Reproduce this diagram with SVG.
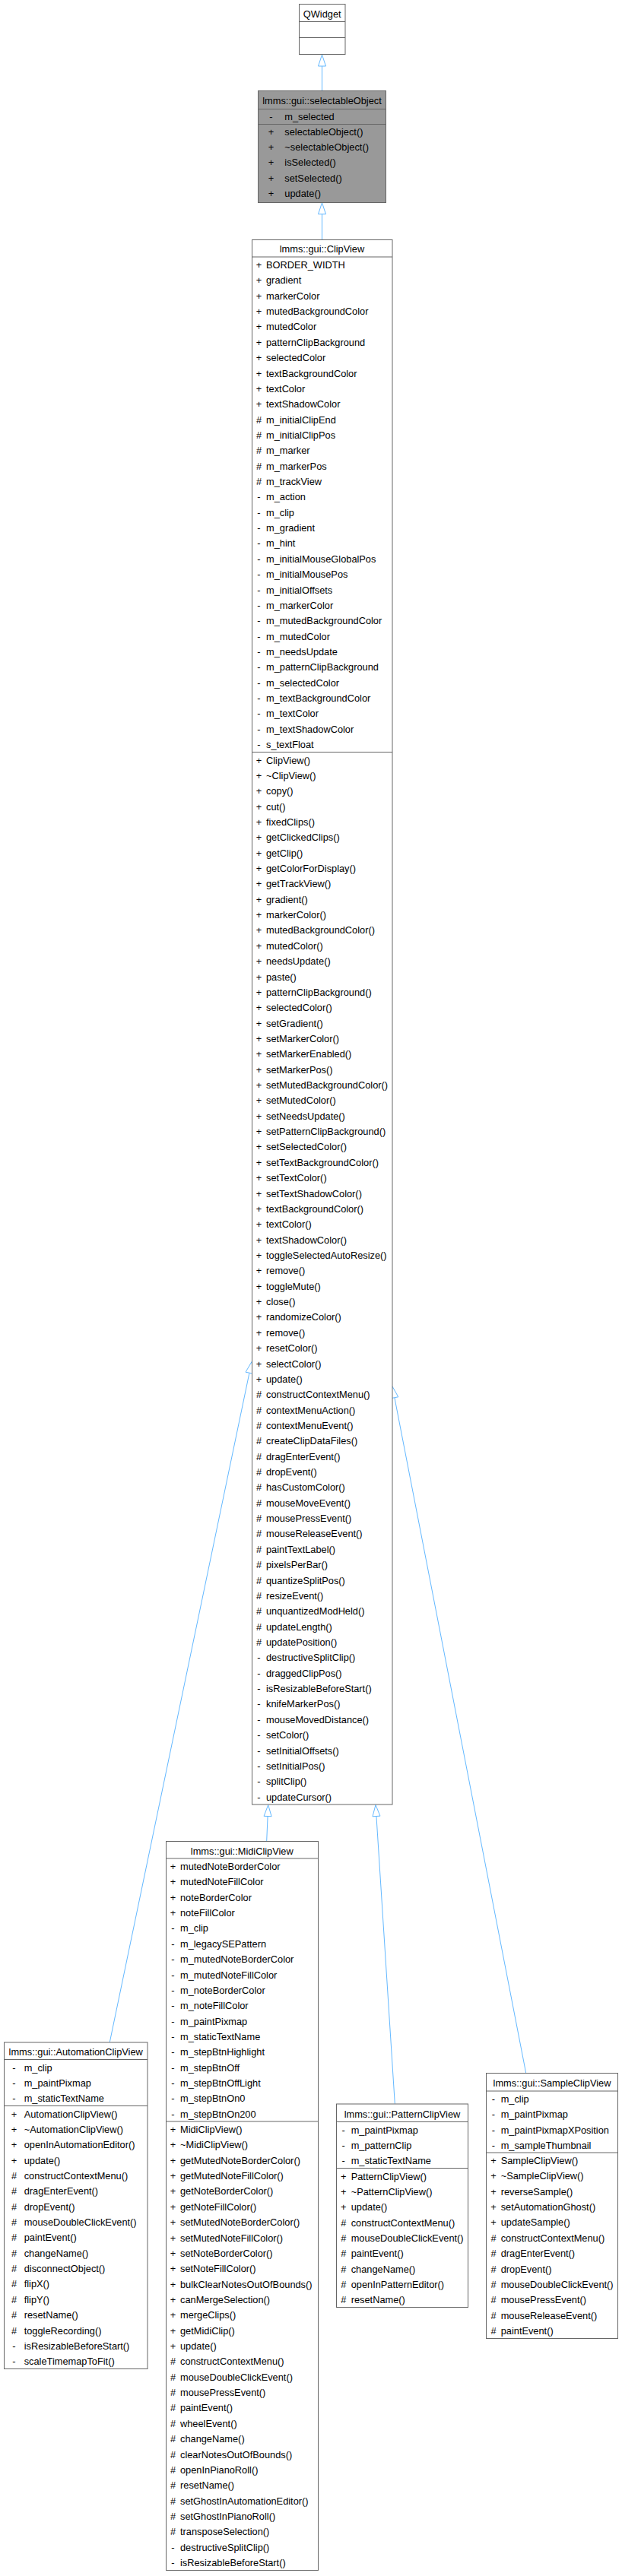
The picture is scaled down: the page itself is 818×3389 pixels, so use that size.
<svg xmlns="http://www.w3.org/2000/svg" width="818" height="3389" viewBox="0 0 818 3389">
<style>
text{font-family:"Liberation Sans",Arial,Helvetica,sans-serif;font-size:12.8px;fill:#000}
.c{text-anchor:middle}
.box{fill:#fff;stroke:#666;stroke-width:1}
.hl{fill:#999;stroke:#666;stroke-width:1}
.sep{stroke:#666;stroke-width:1}
.e line{stroke:#63b8ff;stroke-width:1}
.e polygon{fill:#fff;stroke:#63b8ff;stroke-width:1}
</style>
<rect width="818" height="3389" fill="#fff"/>
<g class="e" id="connectors">
<line x1="423.5" y1="119.3" x2="423.5" y2="87"/><polygon points="423.5,72 428.5,87 418.5,87"/>
<line x1="423.5" y1="315" x2="423.5" y2="281.7"/><polygon points="423.5,266.7 428.5,281.7 418.5,281.7"/>
<line x1="350.7" y1="2422" x2="352.08" y2="2389.5"/><polygon points="352.7,2374.5 357.08,2389.7 347.08,2389.3"/>
<line x1="519.3" y1="2767.7" x2="494.96" y2="2389.47"/><polygon points="494,2374.5 499.95,2389.15 489.97,2389.79"/>
<line x1="691.7" y1="2727.3" x2="518.86" y2="1838.72"/><polygon points="516,1824 523.77,1837.77 513.95,1839.68"/>
<line x1="144.3" y1="2686.7" x2="327.94" y2="1806.18"/><polygon points="331,1791.5 332.83,1807.2 323.04,1805.16"/>
</g>
<g id="QWidget">
<rect class="box" x="393.5" y="5.5" width="60.5" height="66"/>
<line class="sep" x1="393.5" y1="28.5" x2="454" y2="28.5"/>
<line class="sep" x1="393.5" y1="49.5" x2="454" y2="49.5"/>
<text class="c" x="423.7" y="22.5">QWidget</text>
</g>
<g id="selectableObject">
<rect class="hl" x="339.5" y="119.5" width="168" height="147"/>
<line class="sep" x1="339.5" y1="143.5" x2="507.5" y2="143.5"/>
<line class="sep" x1="339.5" y1="163.5" x2="507.5" y2="163.5"/>
<text class="c" x="423.5" y="136.7">lmms::gui::selectableObject</text>
<text class="c"><tspan x="356.5" y="157.7">-</tspan><tspan x="356.5" y="177.7">+</tspan><tspan x="356.5" dy="20.3">+</tspan><tspan x="356.5" dy="20.3">+</tspan><tspan x="356.5" dy="20.3">+</tspan><tspan x="356.5" dy="20.3">+</tspan></text>
<text><tspan x="374.3" y="157.7">m_selected</tspan><tspan x="374.3" y="177.7">selectableObject()</tspan><tspan x="374.3" dy="20.3">~selectableObject()</tspan><tspan x="374.3" dy="20.3">isSelected()</tspan><tspan x="374.3" dy="20.3">setSelected()</tspan><tspan x="374.3" dy="20.3">update()</tspan></text>
</g>
<g id="ClipView">
<rect class="box" x="331.5" y="315.5" width="184.5" height="2058.5"/>
<line class="sep" x1="331.5" y1="338" x2="516" y2="338"/>
<line class="sep" x1="331.5" y1="989.5" x2="516" y2="989.5"/>
<text class="c" x="423.5" y="332">lmms::gui::ClipView</text>
<text class="c"><tspan x="340.5" y="353">+</tspan><tspan x="340.5" dy="20.36">+</tspan><tspan x="340.5" dy="20.36">+</tspan><tspan x="340.5" dy="20.36">+</tspan><tspan x="340.5" dy="20.36">+</tspan><tspan x="340.5" dy="20.36">+</tspan><tspan x="340.5" dy="20.36">+</tspan><tspan x="340.5" dy="20.36">+</tspan><tspan x="340.5" dy="20.36">+</tspan><tspan x="340.5" dy="20.36">+</tspan><tspan x="340.5" dy="20.36">#</tspan><tspan x="340.5" dy="20.36">#</tspan><tspan x="340.5" dy="20.36">#</tspan><tspan x="340.5" dy="20.36">#</tspan><tspan x="340.5" dy="20.36">#</tspan><tspan x="340.5" dy="20.36">-</tspan><tspan x="340.5" dy="20.36">-</tspan><tspan x="340.5" dy="20.36">-</tspan><tspan x="340.5" dy="20.36">-</tspan><tspan x="340.5" dy="20.36">-</tspan><tspan x="340.5" dy="20.36">-</tspan><tspan x="340.5" dy="20.36">-</tspan><tspan x="340.5" dy="20.36">-</tspan><tspan x="340.5" dy="20.36">-</tspan><tspan x="340.5" dy="20.36">-</tspan><tspan x="340.5" dy="20.36">-</tspan><tspan x="340.5" dy="20.36">-</tspan><tspan x="340.5" dy="20.36">-</tspan><tspan x="340.5" dy="20.36">-</tspan><tspan x="340.5" dy="20.36">-</tspan><tspan x="340.5" dy="20.36">-</tspan><tspan x="340.5" dy="20.36">-</tspan></text>
<text><tspan x="350" y="353">BORDER_WIDTH</tspan><tspan x="350" dy="20.36">gradient</tspan><tspan x="350" dy="20.36">markerColor</tspan><tspan x="350" dy="20.36">mutedBackgroundColor</tspan><tspan x="350" dy="20.36">mutedColor</tspan><tspan x="350" dy="20.36">patternClipBackground</tspan><tspan x="350" dy="20.36">selectedColor</tspan><tspan x="350" dy="20.36">textBackgroundColor</tspan><tspan x="350" dy="20.36">textColor</tspan><tspan x="350" dy="20.36">textShadowColor</tspan><tspan x="350" dy="20.36">m_initialClipEnd</tspan><tspan x="350" dy="20.36">m_initialClipPos</tspan><tspan x="350" dy="20.36">m_marker</tspan><tspan x="350" dy="20.36">m_markerPos</tspan><tspan x="350" dy="20.36">m_trackView</tspan><tspan x="350" dy="20.36">m_action</tspan><tspan x="350" dy="20.36">m_clip</tspan><tspan x="350" dy="20.36">m_gradient</tspan><tspan x="350" dy="20.36">m_hint</tspan><tspan x="350" dy="20.36">m_initialMouseGlobalPos</tspan><tspan x="350" dy="20.36">m_initialMousePos</tspan><tspan x="350" dy="20.36">m_initialOffsets</tspan><tspan x="350" dy="20.36">m_markerColor</tspan><tspan x="350" dy="20.36">m_mutedBackgroundColor</tspan><tspan x="350" dy="20.36">m_mutedColor</tspan><tspan x="350" dy="20.36">m_needsUpdate</tspan><tspan x="350" dy="20.36">m_patternClipBackground</tspan><tspan x="350" dy="20.36">m_selectedColor</tspan><tspan x="350" dy="20.36">m_textBackgroundColor</tspan><tspan x="350" dy="20.36">m_textColor</tspan><tspan x="350" dy="20.36">m_textShadowColor</tspan><tspan x="350" dy="20.36">s_textFloat</tspan></text>
<text class="c"><tspan x="340.5" y="1004.5">+</tspan><tspan x="340.5" dy="20.36">+</tspan><tspan x="340.5" dy="20.36">+</tspan><tspan x="340.5" dy="20.36">+</tspan><tspan x="340.5" dy="20.36">+</tspan><tspan x="340.5" dy="20.36">+</tspan><tspan x="340.5" dy="20.36">+</tspan><tspan x="340.5" dy="20.36">+</tspan><tspan x="340.5" dy="20.36">+</tspan><tspan x="340.5" dy="20.36">+</tspan><tspan x="340.5" dy="20.36">+</tspan><tspan x="340.5" dy="20.36">+</tspan><tspan x="340.5" dy="20.36">+</tspan><tspan x="340.5" dy="20.36">+</tspan><tspan x="340.5" dy="20.36">+</tspan><tspan x="340.5" dy="20.36">+</tspan><tspan x="340.5" dy="20.36">+</tspan><tspan x="340.5" dy="20.36">+</tspan><tspan x="340.5" dy="20.36">+</tspan><tspan x="340.5" dy="20.36">+</tspan><tspan x="340.5" dy="20.36">+</tspan><tspan x="340.5" dy="20.36">+</tspan><tspan x="340.5" dy="20.36">+</tspan><tspan x="340.5" dy="20.36">+</tspan><tspan x="340.5" dy="20.36">+</tspan><tspan x="340.5" dy="20.36">+</tspan><tspan x="340.5" dy="20.36">+</tspan><tspan x="340.5" dy="20.36">+</tspan><tspan x="340.5" dy="20.36">+</tspan><tspan x="340.5" dy="20.36">+</tspan><tspan x="340.5" dy="20.36">+</tspan><tspan x="340.5" dy="20.36">+</tspan><tspan x="340.5" dy="20.36">+</tspan><tspan x="340.5" dy="20.36">+</tspan><tspan x="340.5" dy="20.36">+</tspan><tspan x="340.5" dy="20.36">+</tspan><tspan x="340.5" dy="20.36">+</tspan><tspan x="340.5" dy="20.36">+</tspan><tspan x="340.5" dy="20.36">+</tspan><tspan x="340.5" dy="20.36">+</tspan><tspan x="340.5" dy="20.36">+</tspan><tspan x="340.5" dy="20.36">#</tspan><tspan x="340.5" dy="20.36">#</tspan><tspan x="340.5" dy="20.36">#</tspan><tspan x="340.5" dy="20.36">#</tspan><tspan x="340.5" dy="20.36">#</tspan><tspan x="340.5" dy="20.36">#</tspan><tspan x="340.5" dy="20.36">#</tspan><tspan x="340.5" dy="20.36">#</tspan><tspan x="340.5" dy="20.36">#</tspan><tspan x="340.5" dy="20.36">#</tspan><tspan x="340.5" dy="20.36">#</tspan><tspan x="340.5" dy="20.36">#</tspan><tspan x="340.5" dy="20.36">#</tspan><tspan x="340.5" dy="20.36">#</tspan><tspan x="340.5" dy="20.36">#</tspan><tspan x="340.5" dy="20.36">#</tspan><tspan x="340.5" dy="20.36">#</tspan><tspan x="340.5" dy="20.36">-</tspan><tspan x="340.5" dy="20.36">-</tspan><tspan x="340.5" dy="20.36">-</tspan><tspan x="340.5" dy="20.36">-</tspan><tspan x="340.5" dy="20.36">-</tspan><tspan x="340.5" dy="20.36">-</tspan><tspan x="340.5" dy="20.36">-</tspan><tspan x="340.5" dy="20.36">-</tspan><tspan x="340.5" dy="20.36">-</tspan><tspan x="340.5" dy="20.36">-</tspan></text>
<text><tspan x="350" y="1004.5">ClipView()</tspan><tspan x="350" dy="20.36">~ClipView()</tspan><tspan x="350" dy="20.36">copy()</tspan><tspan x="350" dy="20.36">cut()</tspan><tspan x="350" dy="20.36">fixedClips()</tspan><tspan x="350" dy="20.36">getClickedClips()</tspan><tspan x="350" dy="20.36">getClip()</tspan><tspan x="350" dy="20.36">getColorForDisplay()</tspan><tspan x="350" dy="20.36">getTrackView()</tspan><tspan x="350" dy="20.36">gradient()</tspan><tspan x="350" dy="20.36">markerColor()</tspan><tspan x="350" dy="20.36">mutedBackgroundColor()</tspan><tspan x="350" dy="20.36">mutedColor()</tspan><tspan x="350" dy="20.36">needsUpdate()</tspan><tspan x="350" dy="20.36">paste()</tspan><tspan x="350" dy="20.36">patternClipBackground()</tspan><tspan x="350" dy="20.36">selectedColor()</tspan><tspan x="350" dy="20.36">setGradient()</tspan><tspan x="350" dy="20.36">setMarkerColor()</tspan><tspan x="350" dy="20.36">setMarkerEnabled()</tspan><tspan x="350" dy="20.36">setMarkerPos()</tspan><tspan x="350" dy="20.36">setMutedBackgroundColor()</tspan><tspan x="350" dy="20.36">setMutedColor()</tspan><tspan x="350" dy="20.36">setNeedsUpdate()</tspan><tspan x="350" dy="20.36">setPatternClipBackground()</tspan><tspan x="350" dy="20.36">setSelectedColor()</tspan><tspan x="350" dy="20.36">setTextBackgroundColor()</tspan><tspan x="350" dy="20.36">setTextColor()</tspan><tspan x="350" dy="20.36">setTextShadowColor()</tspan><tspan x="350" dy="20.36">textBackgroundColor()</tspan><tspan x="350" dy="20.36">textColor()</tspan><tspan x="350" dy="20.36">textShadowColor()</tspan><tspan x="350" dy="20.36">toggleSelectedAutoResize()</tspan><tspan x="350" dy="20.36">remove()</tspan><tspan x="350" dy="20.36">toggleMute()</tspan><tspan x="350" dy="20.36">close()</tspan><tspan x="350" dy="20.36">randomizeColor()</tspan><tspan x="350" dy="20.36">remove()</tspan><tspan x="350" dy="20.36">resetColor()</tspan><tspan x="350" dy="20.36">selectColor()</tspan><tspan x="350" dy="20.36">update()</tspan><tspan x="350" dy="20.36">constructContextMenu()</tspan><tspan x="350" dy="20.36">contextMenuAction()</tspan><tspan x="350" dy="20.36">contextMenuEvent()</tspan><tspan x="350" dy="20.36">createClipDataFiles()</tspan><tspan x="350" dy="20.36">dragEnterEvent()</tspan><tspan x="350" dy="20.36">dropEvent()</tspan><tspan x="350" dy="20.36">hasCustomColor()</tspan><tspan x="350" dy="20.36">mouseMoveEvent()</tspan><tspan x="350" dy="20.36">mousePressEvent()</tspan><tspan x="350" dy="20.36">mouseReleaseEvent()</tspan><tspan x="350" dy="20.36">paintTextLabel()</tspan><tspan x="350" dy="20.36">pixelsPerBar()</tspan><tspan x="350" dy="20.36">quantizeSplitPos()</tspan><tspan x="350" dy="20.36">resizeEvent()</tspan><tspan x="350" dy="20.36">unquantizedModHeld()</tspan><tspan x="350" dy="20.36">updateLength()</tspan><tspan x="350" dy="20.36">updatePosition()</tspan><tspan x="350" dy="20.36">destructiveSplitClip()</tspan><tspan x="350" dy="20.36">draggedClipPos()</tspan><tspan x="350" dy="20.36">isResizableBeforeStart()</tspan><tspan x="350" dy="20.36">knifeMarkerPos()</tspan><tspan x="350" dy="20.36">mouseMovedDistance()</tspan><tspan x="350" dy="20.36">setColor()</tspan><tspan x="350" dy="20.36">setInitialOffsets()</tspan><tspan x="350" dy="20.36">setInitialPos()</tspan><tspan x="350" dy="20.36">splitClip()</tspan><tspan x="350" dy="20.36">updateCursor()</tspan></text>
</g>
<g id="AutomationClipView">
<rect class="box" x="5.5" y="2687" width="188.5" height="429.5"/>
<line class="sep" x1="5.5" y1="2709.5" x2="194" y2="2709.5"/>
<line class="sep" x1="5.5" y1="2770.5" x2="194" y2="2770.5"/>
<text class="c" x="99.7" y="2704">lmms::gui::AutomationClipView</text>
<text class="c"><tspan x="18.5" y="2724.5">-</tspan><tspan x="18.5" dy="20.36">-</tspan><tspan x="18.5" dy="20.36">-</tspan><tspan x="18.5" y="2785.5">+</tspan><tspan x="18.5" dy="20.36">+</tspan><tspan x="18.5" dy="20.36">+</tspan><tspan x="18.5" dy="20.36">+</tspan><tspan x="18.5" dy="20.36">#</tspan><tspan x="18.5" dy="20.36">#</tspan><tspan x="18.5" dy="20.36">#</tspan><tspan x="18.5" dy="20.36">#</tspan><tspan x="18.5" dy="20.36">#</tspan><tspan x="18.5" dy="20.36">#</tspan><tspan x="18.5" dy="20.36">#</tspan><tspan x="18.5" dy="20.36">#</tspan><tspan x="18.5" dy="20.36">#</tspan><tspan x="18.5" dy="20.36">#</tspan><tspan x="18.5" dy="20.36">#</tspan><tspan x="18.5" dy="20.36">-</tspan><tspan x="18.5" dy="20.36">-</tspan></text>
<text><tspan x="31.7" y="2724.5">m_clip</tspan><tspan x="31.7" dy="20.36">m_paintPixmap</tspan><tspan x="31.7" dy="20.36">m_staticTextName</tspan><tspan x="31.7" y="2785.5">AutomationClipView()</tspan><tspan x="31.7" dy="20.36">~AutomationClipView()</tspan><tspan x="31.7" dy="20.36">openInAutomationEditor()</tspan><tspan x="31.7" dy="20.36">update()</tspan><tspan x="31.7" dy="20.36">constructContextMenu()</tspan><tspan x="31.7" dy="20.36">dragEnterEvent()</tspan><tspan x="31.7" dy="20.36">dropEvent()</tspan><tspan x="31.7" dy="20.36">mouseDoubleClickEvent()</tspan><tspan x="31.7" dy="20.36">paintEvent()</tspan><tspan x="31.7" dy="20.36">changeName()</tspan><tspan x="31.7" dy="20.36">disconnectObject()</tspan><tspan x="31.7" dy="20.36">flipX()</tspan><tspan x="31.7" dy="20.36">flipY()</tspan><tspan x="31.7" dy="20.36">resetName()</tspan><tspan x="31.7" dy="20.36">toggleRecording()</tspan><tspan x="31.7" dy="20.36">isResizableBeforeStart()</tspan><tspan x="31.7" dy="20.36">scaleTimemapToFit()</tspan></text>
</g>
<g id="MidiClipView">
<rect class="box" x="218.5" y="2422.5" width="200" height="959"/>
<line class="sep" x1="218.5" y1="2445" x2="418.5" y2="2445"/>
<line class="sep" x1="218.5" y1="2791" x2="418.5" y2="2791"/>
<text class="c" x="318.3" y="2440">lmms::gui::MidiClipView</text>
<text class="c"><tspan x="227.5" y="2460">+</tspan><tspan x="227.5" dy="20.36">+</tspan><tspan x="227.5" dy="20.36">+</tspan><tspan x="227.5" dy="20.36">+</tspan><tspan x="227.5" dy="20.36">-</tspan><tspan x="227.5" dy="20.36">-</tspan><tspan x="227.5" dy="20.36">-</tspan><tspan x="227.5" dy="20.36">-</tspan><tspan x="227.5" dy="20.36">-</tspan><tspan x="227.5" dy="20.36">-</tspan><tspan x="227.5" dy="20.36">-</tspan><tspan x="227.5" dy="20.36">-</tspan><tspan x="227.5" dy="20.36">-</tspan><tspan x="227.5" dy="20.36">-</tspan><tspan x="227.5" dy="20.36">-</tspan><tspan x="227.5" dy="20.36">-</tspan><tspan x="227.5" dy="20.36">-</tspan><tspan x="227.5" y="2806">+</tspan><tspan x="227.5" dy="20.36">+</tspan><tspan x="227.5" dy="20.36">+</tspan><tspan x="227.5" dy="20.36">+</tspan><tspan x="227.5" dy="20.36">+</tspan><tspan x="227.5" dy="20.36">+</tspan><tspan x="227.5" dy="20.36">+</tspan><tspan x="227.5" dy="20.36">+</tspan><tspan x="227.5" dy="20.36">+</tspan><tspan x="227.5" dy="20.36">+</tspan><tspan x="227.5" dy="20.36">+</tspan><tspan x="227.5" dy="20.36">+</tspan><tspan x="227.5" dy="20.36">+</tspan><tspan x="227.5" dy="20.36">+</tspan><tspan x="227.5" dy="20.36">+</tspan><tspan x="227.5" dy="20.36">#</tspan><tspan x="227.5" dy="20.36">#</tspan><tspan x="227.5" dy="20.36">#</tspan><tspan x="227.5" dy="20.36">#</tspan><tspan x="227.5" dy="20.36">#</tspan><tspan x="227.5" dy="20.36">#</tspan><tspan x="227.5" dy="20.36">#</tspan><tspan x="227.5" dy="20.36">#</tspan><tspan x="227.5" dy="20.36">#</tspan><tspan x="227.5" dy="20.36">#</tspan><tspan x="227.5" dy="20.36">#</tspan><tspan x="227.5" dy="20.36">#</tspan><tspan x="227.5" dy="20.36">-</tspan><tspan x="227.5" dy="20.36">-</tspan></text>
<text><tspan x="237" y="2460">mutedNoteBorderColor</tspan><tspan x="237" dy="20.36">mutedNoteFillColor</tspan><tspan x="237" dy="20.36">noteBorderColor</tspan><tspan x="237" dy="20.36">noteFillColor</tspan><tspan x="237" dy="20.36">m_clip</tspan><tspan x="237" dy="20.36">m_legacySEPattern</tspan><tspan x="237" dy="20.36">m_mutedNoteBorderColor</tspan><tspan x="237" dy="20.36">m_mutedNoteFillColor</tspan><tspan x="237" dy="20.36">m_noteBorderColor</tspan><tspan x="237" dy="20.36">m_noteFillColor</tspan><tspan x="237" dy="20.36">m_paintPixmap</tspan><tspan x="237" dy="20.36">m_staticTextName</tspan><tspan x="237" dy="20.36">m_stepBtnHighlight</tspan><tspan x="237" dy="20.36">m_stepBtnOff</tspan><tspan x="237" dy="20.36">m_stepBtnOffLight</tspan><tspan x="237" dy="20.36">m_stepBtnOn0</tspan><tspan x="237" dy="20.36">m_stepBtnOn200</tspan><tspan x="237" y="2806">MidiClipView()</tspan><tspan x="237" dy="20.36">~MidiClipView()</tspan><tspan x="237" dy="20.36">getMutedNoteBorderColor()</tspan><tspan x="237" dy="20.36">getMutedNoteFillColor()</tspan><tspan x="237" dy="20.36">getNoteBorderColor()</tspan><tspan x="237" dy="20.36">getNoteFillColor()</tspan><tspan x="237" dy="20.36">setMutedNoteBorderColor()</tspan><tspan x="237" dy="20.36">setMutedNoteFillColor()</tspan><tspan x="237" dy="20.36">setNoteBorderColor()</tspan><tspan x="237" dy="20.36">setNoteFillColor()</tspan><tspan x="237" dy="20.36">bulkClearNotesOutOfBounds()</tspan><tspan x="237" dy="20.36">canMergeSelection()</tspan><tspan x="237" dy="20.36">mergeClips()</tspan><tspan x="237" dy="20.36">getMidiClip()</tspan><tspan x="237" dy="20.36">update()</tspan><tspan x="237" dy="20.36">constructContextMenu()</tspan><tspan x="237" dy="20.36">mouseDoubleClickEvent()</tspan><tspan x="237" dy="20.36">mousePressEvent()</tspan><tspan x="237" dy="20.36">paintEvent()</tspan><tspan x="237" dy="20.36">wheelEvent()</tspan><tspan x="237" dy="20.36">changeName()</tspan><tspan x="237" dy="20.36">clearNotesOutOfBounds()</tspan><tspan x="237" dy="20.36">openInPianoRoll()</tspan><tspan x="237" dy="20.36">resetName()</tspan><tspan x="237" dy="20.36">setGhostInAutomationEditor()</tspan><tspan x="237" dy="20.36">setGhostInPianoRoll()</tspan><tspan x="237" dy="20.36">transposeSelection()</tspan><tspan x="237" dy="20.36">destructiveSplitClip()</tspan><tspan x="237" dy="20.36">isResizableBeforeStart()</tspan></text>
</g>
<g id="PatternClipView">
<rect class="box" x="442.5" y="2768" width="173" height="267.5"/>
<line class="sep" x1="442.5" y1="2791.5" x2="615.5" y2="2791.5"/>
<line class="sep" x1="442.5" y1="2852.5" x2="615.5" y2="2852.5"/>
<text class="c" x="529" y="2785.5">lmms::gui::PatternClipView</text>
<text class="c"><tspan x="451.7" y="2806.5">-</tspan><tspan x="451.7" dy="20.36">-</tspan><tspan x="451.7" dy="20.36">-</tspan><tspan x="451.7" y="2867.5">+</tspan><tspan x="451.7" dy="20.36">+</tspan><tspan x="451.7" dy="20.36">+</tspan><tspan x="451.7" dy="20.36">#</tspan><tspan x="451.7" dy="20.36">#</tspan><tspan x="451.7" dy="20.36">#</tspan><tspan x="451.7" dy="20.36">#</tspan><tspan x="451.7" dy="20.36">#</tspan><tspan x="451.7" dy="20.36">#</tspan></text>
<text><tspan x="461.7" y="2806.5">m_paintPixmap</tspan><tspan x="461.7" dy="20.36">m_patternClip</tspan><tspan x="461.7" dy="20.36">m_staticTextName</tspan><tspan x="461.7" y="2867.5">PatternClipView()</tspan><tspan x="461.7" dy="20.36">~PatternClipView()</tspan><tspan x="461.7" dy="20.36">update()</tspan><tspan x="461.7" dy="20.36">constructContextMenu()</tspan><tspan x="461.7" dy="20.36">mouseDoubleClickEvent()</tspan><tspan x="461.7" dy="20.36">paintEvent()</tspan><tspan x="461.7" dy="20.36">changeName()</tspan><tspan x="461.7" dy="20.36">openInPatternEditor()</tspan><tspan x="461.7" dy="20.36">resetName()</tspan></text>
</g>
<g id="SampleClipView">
<rect class="box" x="639.5" y="2727.5" width="173" height="349"/>
<line class="sep" x1="639.5" y1="2751" x2="812.5" y2="2751"/>
<line class="sep" x1="639.5" y1="2832" x2="812.5" y2="2832"/>
<text class="c" x="726" y="2745">lmms::gui::SampleClipView</text>
<text class="c"><tspan x="649" y="2766">-</tspan><tspan x="649" dy="20.36">-</tspan><tspan x="649" dy="20.36">-</tspan><tspan x="649" dy="20.36">-</tspan><tspan x="649" y="2847">+</tspan><tspan x="649" dy="20.36">+</tspan><tspan x="649" dy="20.36">+</tspan><tspan x="649" dy="20.36">+</tspan><tspan x="649" dy="20.36">+</tspan><tspan x="649" dy="20.36">#</tspan><tspan x="649" dy="20.36">#</tspan><tspan x="649" dy="20.36">#</tspan><tspan x="649" dy="20.36">#</tspan><tspan x="649" dy="20.36">#</tspan><tspan x="649" dy="20.36">#</tspan><tspan x="649" dy="20.36">#</tspan></text>
<text><tspan x="658.7" y="2766">m_clip</tspan><tspan x="658.7" dy="20.36">m_paintPixmap</tspan><tspan x="658.7" dy="20.36">m_paintPixmapXPosition</tspan><tspan x="658.7" dy="20.36">m_sampleThumbnail</tspan><tspan x="658.7" y="2847">SampleClipView()</tspan><tspan x="658.7" dy="20.36">~SampleClipView()</tspan><tspan x="658.7" dy="20.36">reverseSample()</tspan><tspan x="658.7" dy="20.36">setAutomationGhost()</tspan><tspan x="658.7" dy="20.36">updateSample()</tspan><tspan x="658.7" dy="20.36">constructContextMenu()</tspan><tspan x="658.7" dy="20.36">dragEnterEvent()</tspan><tspan x="658.7" dy="20.36">dropEvent()</tspan><tspan x="658.7" dy="20.36">mouseDoubleClickEvent()</tspan><tspan x="658.7" dy="20.36">mousePressEvent()</tspan><tspan x="658.7" dy="20.36">mouseReleaseEvent()</tspan><tspan x="658.7" dy="20.36">paintEvent()</tspan></text>
</g>
</svg>
